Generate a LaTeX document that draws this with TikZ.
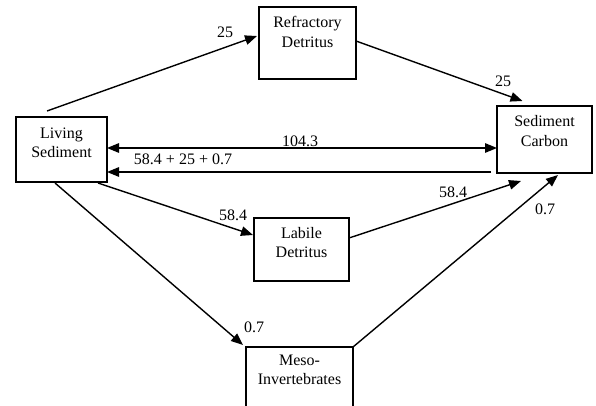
\documentclass[tikz,border=0pt]{standalone}
\usepackage{fontspec}
\setmainfont{Liberation Serif}
\usetikzlibrary{arrows.meta,calc}
\newcommand\twoline[2]{\begin{tabular}[t]{@{}c@{}}#1\\#2\end{tabular}}
\begin{document}
\begin{tikzpicture}[x=1pt,y=-1pt,
  font=\fontsize{16}{19.5}\selectfont,
  box/.style={draw,line width=1.4pt,inner sep=0pt,outer sep=0pt},
  boxtext/.style={anchor=base,inner sep=0pt},
  lbl/.style={inner sep=0pt},
  flow/.style={line width=1.4pt,-{Triangle[length=12pt,width=9.5pt]}},
  both/.style={line width=1.4pt,{Triangle[length=12pt,width=9.5pt]}-{Triangle[length=12pt,width=9.5pt]}}]
\useasboundingbox (0,0) rectangle (596,406);
\clip (0,0) rectangle (596,406);
% boxes
\node[box,minimum width=97pt,minimum height=72pt] (RD) at (307.5,43) {};
\node[box,minimum width=91pt,minimum height=65pt] (LS) at (61.5,149.5) {};
\node[box,minimum width=95pt,minimum height=67pt] (SC) at (544.5,139.5) {};
\node[box,minimum width=95pt,minimum height=63pt] (LD) at (301.5,249.5) {};
\node[box,minimum width=107pt,minimum height=80pt] (MI) at (299.5,387) {};
% box texts
\node[boxtext] (RDt) at ($(RD.north)+(0,21)$) {\twoline{Refractory}{Detritus}};
\node[boxtext] (LSt) at ($(LS.north)+(0,21.5)$) {\twoline{Living}{Sediment}};
\node[boxtext] (SCt) at ($(SC.north)+(0,21)$) {\twoline{Sediment}{Carbon}};
\node[boxtext] (LDt) at ($(LD.north)+(0,20)$) {\twoline{Labile}{Detritus}};
\node[boxtext] (MIt) at ($(MI.north)+(0,18)$) {\twoline{Meso-}{Invertebrates}};
% connectors
\draw[flow] ($(LS.north)+(-14.5,-6)$) -- ($(RD.west)+(-2,-7)$);
\draw[flow] ($(RD.east)+(0,-2)$) -- ($(SC.north)+(-22,-5)$);
\coordinate (a) at ($(LS.east)+(0,-1.5)$);
\draw[both] (a) -- (a -| SC.west);
\coordinate (b) at ($(SC.west)+(-6,32.5)$);
\draw[flow] (b) -- (b -| LS.east);
\draw[flow] ($(LS.south)+(36.5,1)$) -- ($(LD.west)+(-1,-14.5)$);
\draw[flow] ($(LS.south)+(-6.5,1)$) -- ($(MI.north west)+(-3,-2)$);
\draw[flow] ($(LD.east)+(0,-11.5)$) -- ($(SC.south)+(-23.5,8)$);
\draw[flow] (MI.north east) -- ($(SC.south)+(13.5,2)$);
% labels
\node[lbl] (l1) at (225,32) {25};
\node[lbl] (l2) at (503,81) {25};
\node[lbl] (l3) at (300,141) {104.3};
\node[lbl] (l4) at (183,159) {58.4 + 25 + 0.7};
\node[lbl] (l5) at (233,215) {58.4};
\node[lbl] (l6) at (254,327) {0.7};
\node[lbl] (l7) at (453,192) {58.4};
\node[lbl] (l8) at (545,209) {0.7};
\end{tikzpicture}
\end{document}
